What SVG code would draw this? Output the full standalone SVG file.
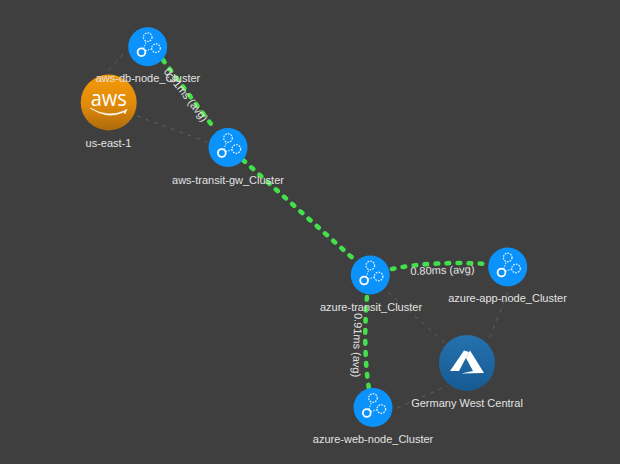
<svg xmlns="http://www.w3.org/2000/svg" width="620" height="464" viewBox="0 0 620 464">
<style>
text{font-family:"Liberation Sans",Arial,sans-serif;font-size:11px;fill:#e2e2e2;text-anchor:middle}
.edge{fill:none;stroke:#43e04b;stroke-width:4.6;stroke-linecap:round;stroke-dasharray:2.6 8.4}
.link{fill:none;stroke:#5f5f5f;stroke-width:1;stroke-dasharray:4 5}
.disc{fill:#0b93fb}
.dot{fill:none;stroke:#e8f4ff;stroke-width:1.2;stroke-dasharray:1.7 1.1}
.hub{fill:none;stroke:#fff;stroke-width:1.8}
.tie{fill:none;stroke:#e8f4ff;stroke-width:1;stroke-dasharray:1.5 1.2}
</style>
<defs>
<linearGradient id="awsg" x1="0" y1="0" x2="0" y2="1"><stop offset="0" stop-color="#f59a06"/><stop offset="0.55" stop-color="#e08a0a"/><stop offset="1" stop-color="#ad6a0c"/></linearGradient>
<linearGradient id="azg" x1="0" y1="0" x2="0" y2="1"><stop offset="0" stop-color="#2472b0"/><stop offset="1" stop-color="#175a92"/></linearGradient>
<g id="cl">
<circle class="disc" r="19.5"/>
<circle class="dot" cx="0" cy="-9.5" r="4.3"/>
<circle class="dot" cx="8.3" cy="1.5" r="4.3"/>
<circle class="hub" cx="-6.2" cy="5.5" r="3.9"/>
<path class="tie" d="M-4.2 2-1.5-5M-2.3 4.2 4.2 2"/>
</g>
</defs>
<rect width="620" height="464" fill="#3f3f3f"/>
<g id="connectors">
<path class="link" d="M123 54 107 72M137 116 207 142"/>
<path class="link" d="M388 292 445 343M508 292 488 342M397 408 447 386"/>
<path class="edge" d="M163 60 214 128"/>
<path class="edge" d="M243 160 357 262"/>
<path class="edge" d="M392 269C420 263 455 262 488 264"/>
<path class="edge" d="M367 297C364 330 365 365 369 389"/>
<text transform="translate(183 97) rotate(52)">0.91ms (avg)</text>
<text transform="translate(442.5 274) rotate(-2)">0.80ms (avg)</text>
<text transform="translate(353.5 345) rotate(92)">0.91ms (avg)</text>
</g>
<g id="aws-east"><circle cx="108.7" cy="102.5" r="28" fill="url(#awsg)"/>
<text x="108.7" y="106" style="font-family:'Open Sans',sans-serif;font-size:22px;fill:#fff" textLength="36" lengthAdjust="spacingAndGlyphs">aws</text>
<path d="M90 108Q108 118 124 111L127 109 125 114 124 112Q108 120 90 108Z" fill="#fff" stroke="#fff" stroke-width="0.5"/>
<text x="108.5" y="147">us-east-1</text></g>
<g id="aws-db"><use href="#cl" x="147.7" y="46.7"/><text x="148" y="82">aws-db-node_Cluster</text></g>
<g id="aws-transit"><use href="#cl" x="228" y="147.5"/><text x="228" y="184">aws-transit-gw_Cluster</text></g>
<g id="azure-transit"><use href="#cl" x="370.3" y="275"/><text x="371" y="311">azure-transit_Cluster</text></g>
<g id="azure-app"><use href="#cl" x="507.7" y="267"/><text x="507.5" y="302">azure-app-node_Cluster</text></g>
<g id="azure-web"><use href="#cl" x="373" y="407.5"/><text x="373" y="443">azure-web-node_Cluster</text></g>
<g id="azure-region"><circle cx="467" cy="363" r="28" fill="url(#azg)"/>
<path d="M464 350.5 450 371 459 371 469 352ZM470 350.5 484 373 461 373.5 473 371 466 358Z" fill="#fff"/>
<text x="467" y="407">Germany West Central</text></g>
</svg>
